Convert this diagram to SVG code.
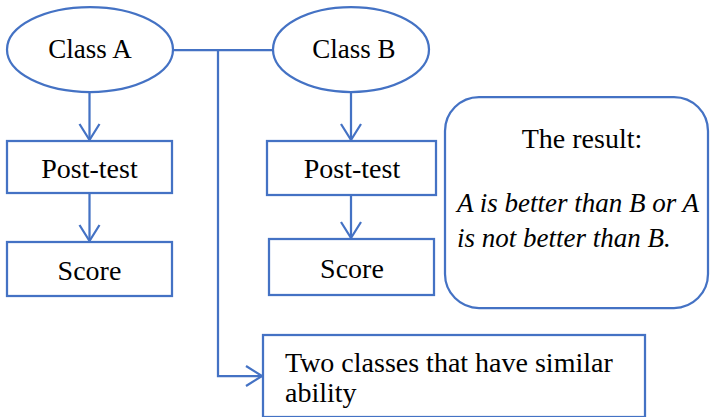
<svg xmlns="http://www.w3.org/2000/svg" width="710" height="417" viewBox="0 0 710 417">
<defs>
<style>
.s{fill:#fff;stroke:#4472C4;stroke-width:2.25}
.c{fill:none;stroke:#4472C4;stroke-width:2.25}
text{font-family:"Liberation Serif","DejaVu Serif",serif;font-size:28px;fill:#000}
.m{text-anchor:middle}
.i{font-style:italic;font-size:27px}
.k{font-size:27px}
</style>
<marker id="ah" markerWidth="20" markerHeight="24" refX="17" refY="11" orient="auto" markerUnits="userSpaceOnUse">
<path d="M1,1 L17,11 L1,21" fill="none" stroke="#4472C4" stroke-width="2.25"/>
</marker>
</defs>
<g id="connectors">
<path class="c" d="M173,50 H273"/>
<path class="c" d="M218,50 V376 H262" marker-end="url(#ah)"/>
<path class="c" d="M89.5,92 V140" marker-end="url(#ah)"/>
<path class="c" d="M89.5,193 V241" marker-end="url(#ah)"/>
<path class="c" d="M351,92 V140" marker-end="url(#ah)"/>
<path class="c" d="M351,195 V238" marker-end="url(#ah)"/>
</g>
<g id="classA">
<ellipse class="s" cx="90" cy="49.5" rx="83" ry="42.5"/>
<text class="m k" x="90" y="58">Class A</text>
</g>
<g id="classB">
<ellipse class="s" cx="351" cy="49.5" rx="78" ry="42.5"/>
<text class="m k" x="354" y="58">Class B</text>
</g>
<g id="posttestA">
<rect class="s" x="7" y="141" width="165" height="52"/>
<text class="m" x="89.5" y="178">Post-test</text>
</g>
<g id="scoreA">
<rect class="s" x="7" y="242" width="165" height="54"/>
<text class="m" x="89.5" y="280">Score</text>
</g>
<g id="posttestB">
<rect class="s" x="267" y="141" width="169" height="54"/>
<text class="m" x="352" y="178">Post-test</text>
</g>
<g id="scoreB">
<rect class="s" x="269" y="239" width="165" height="56"/>
<text class="m" x="352" y="278">Score</text>
</g>
<g id="result">
<rect class="s" x="445" y="97" width="263" height="211" rx="34" ry="34"/>
<text class="m" x="582" y="148">The result:</text>
<text class="i" x="457" y="212">A is better than B or A</text>
<text class="i" x="457" y="247">is not better than B.</text>
</g>
<g id="similar">
<rect class="s" x="263" y="335" width="382" height="82"/>
<text x="285" y="372">Two classes that have similar</text>
<text x="285" y="402">ability</text>
</g>
</svg>
